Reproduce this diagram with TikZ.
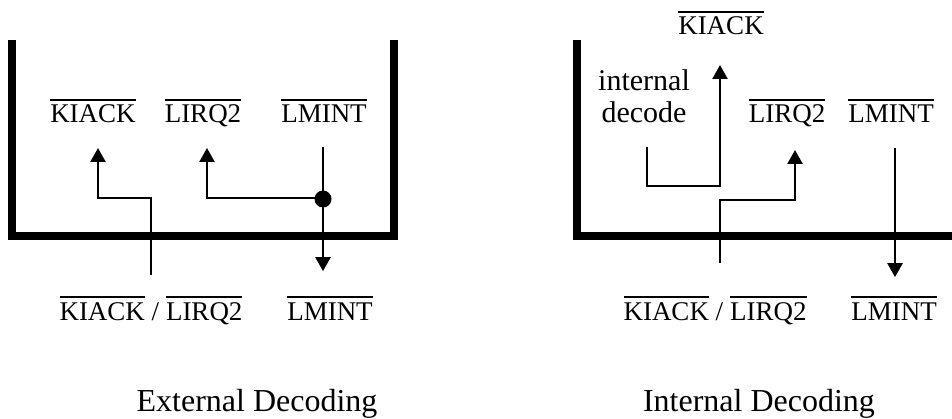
\documentclass[tikz,border=0pt]{standalone}
\usepackage{fontspec}
\setmainfont{Liberation Serif}
\usetikzlibrary{arrows.meta,calc}

% signal name with a bar over it
\newcommand{\ovl}[1]{\vbox{\hrule height 2pt\kern4pt\hbox{#1}}}

\begin{document}
\begin{tikzpicture}[
  x=1pt,y=-1pt,
  wall/.style={line width=8pt,line join=miter},
  sig/.style={-{Triangle[width=15pt,length=14pt]},line width=2.5pt},
  lbl/.style={inner sep=0pt,anchor=base,font=\fontsize{27}{30}\selectfont},
  caption/.style={inner sep=0pt,anchor=base,font=\fontsize{32}{36}\selectfont},
  dot/.style={circle,fill=black,inner sep=0pt,minimum size=17pt}
]
  \useasboundingbox (0,0) rectangle (952,419);

  % external decoding
  \draw[wall] (12,40) -- (12,236) -- (394,236) -- (394,40);
  \node[lbl] (tkiack) at (93,123) {\ovl{KIACK}};
  \node[lbl] (tlirq) at (203,123) {\ovl{LIRQ2}};
  \node[lbl] (tlmint) at (324,123) {\ovl{LMINT}};
  \node[lbl] (bkl) at (151,320) {\ovl{KIACK} / \ovl{LIRQ2}};
  \node[lbl] (blmint) at (330,320) {\ovl{LMINT}};
  \coordinate (kin) at (151,275);
  \coordinate (kbend) at (151,198);
  \coordinate (jn) at (323,198);

  \draw[sig,shorten >=25pt] (kin) -- (kbend) -| ([xshift=5pt]tkiack.base);
  \draw[sig,shorten >=25pt] (jn) -| ([xshift=4pt]tlirq.base);
  \draw[sig,shorten <=24pt,shorten >=25pt] ([xshift=-1pt]tlmint.base) -- ([xshift=-1pt]tlmint.base |- blmint.north);
  \node[dot] (jdot) at ([yshift=-1pt]jn) {};

  % internal decoding
  \draw[wall] (577,40) -- (577,236) -- (952,236);
  \node[lbl] (rtkiack) at (721,35) {\ovl{KIACK}};
  \node[lbl,anchor=center,align=center,font=\fontsize{30}{32}\selectfont] (decode) at (644,96) {internal\\decode};
  \node[lbl] (rlirq) at (787,123) {\ovl{LIRQ2}};
  \node[lbl] (rtlmint) at (891,123) {\ovl{LMINT}};
  \node[lbl] (rbkl) at (715,320) {\ovl{KIACK} / \ovl{LIRQ2}};
  \node[lbl] (rblmint) at (894,320) {\ovl{LMINT}};
  \coordinate (dsrc) at (647,147);
  \coordinate (dbend) at (720,186);
  \coordinate (rin) at (720,263);
  \coordinate (rbend) at (720,200);

  \draw[sig,shorten >=30pt] (dsrc) |- (dbend) -- (dbend |- rtkiack.base);
  \draw[sig,shorten >=27pt] (rin) -- (rbend) -| ([xshift=8pt]rlirq.base);
  \draw[sig,shorten <=25pt,shorten >=19pt] ([xshift=4pt]rtlmint.base) -- ([xshift=4pt]rtlmint.base |- rblmint.north);

  \node[caption] (ext) at (257,411) {External Decoding};
  \node[caption] (int) at (759,411) {Internal Decoding};
\end{tikzpicture}
\end{document}
